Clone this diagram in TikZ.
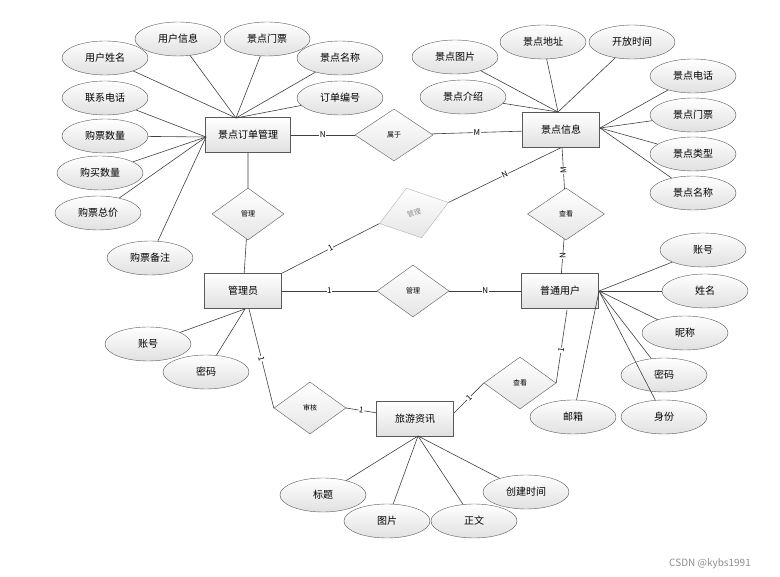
\documentclass[tikz,border=0pt]{standalone}
\usepackage{fontspec}
\setmainfont{Noto Sans CJK SC}
\usetikzlibrary{shapes.geometric}

\begin{document}
\begin{tikzpicture}[x=1pt, y=-1pt,
  entity/.style={draw=black!65, top color=white, bottom color=black!12, minimum width=77pt, minimum height=35pt, inner sep=1pt, font=\fontsize{10}{12}\selectfont},
  attr/.style={ellipse, draw=black!65, top color=white, bottom color=black!12, minimum width=86pt, minimum height=34pt, inner sep=0pt, font=\fontsize{10}{12}\selectfont},
  rel/.style={diamond, draw=black!65, top color=white, bottom color=black!10, minimum width=72pt, minimum height=52pt, inner sep=0pt, font=\fontsize{7}{8}\selectfont},
  link/.style={draw=black!75, line width=0.6pt},
  card/.style={fill=white, inner sep=0.5pt, font=\fontsize{8}{9}\selectfont}]
  \useasboundingbox (0,0) rectangle (780,577);
  % entities
  \node[entity, minimum width=85pt] (order) at (248,135) {景点订单管理};
  \node[entity] (spot) at (561,130) {景点信息};
  \node[entity] (admin) at (243,291) {管理员};
  \node[entity] (user) at (560,291) {普通用户};
  \node[entity] (news) at (415,419) {旅游资讯};
  % relationships
  \node[rel, minimum width=78pt] (belong) at (394,135) {属于};
  \node[rel] (manageA) at (248,214) {管理};
  \node[rel, draw=black!30, text=black!45, rotate=17] (manageB) at (414,213) {管理};
  \node[rel, minimum width=77pt] (viewA) at (566,214) {查看};
  \node[rel] (manageC) at (413,291) {管理};
  \node[rel] (audit) at (310,408) {审核};
  \node[rel] (viewB) at (520,383) {查看};
  % points where attribute lines meet the entities
  \coordinate (orderTop) at (236,118);
  \coordinate (orderLeft) at (206,137);
  \coordinate (spotTop) at (558,112);
  \coordinate (spotRight) at (600,128);
  \coordinate (adminLow) at (245,309);
  \coordinate (userRight) at (599,291);
  \coordinate (newsLow) at (418,436);
  % attributes of the order entity
  \foreach \n/\x/\y/\t/\c in {oa/105/58/用户姓名/orderTop, ob/178/39/用户信息/orderTop,
      oc/267/39/景点门票/orderTop, od/340/58/景点名称/orderTop, oe/340/98/订单编号/orderTop,
      of/105/98/联系电话/orderLeft, og/105/136/购票数量/orderLeft, oh/100/173/购买数量/orderLeft,
      oi/98/213/购票总价/orderLeft, oj/150/258/购票备注/orderLeft}
  {
    \node[attr] (\n) at (\x,\y) {\t};
    \draw[link] (\n) -- (\c);
  }
  % attributes of the scenic spot entity
  \foreach \n/\x/\y/\t/\c in {sa/455/57/景点图片/spotTop, sb/543/42/景点地址/spotTop,
      sc/632/42/开放时间/spotTop, sd/463/97/景点介绍/spotTop, se/693/76/景点电话/spotRight,
      sf/693/115/景点门票/spotRight, sg/693/154/景点类型/spotRight, sh/693/193/景点名称/spotRight}
  {
    \node[attr] (\n) at (\x,\y) {\t};
    \draw[link] (\n) -- (\c);
  }
  % attributes of admin, user and news
  \foreach \n/\x/\y/\t/\c in {aa/148/344/账号/adminLow, ab/206/372/密码/adminLow,
      ua/703/250/账号/userRight, ub/705/291/姓名/userRight, uc/685/333/昵称/userRight,
      ud/664/375/密码/userRight, ue/664/417/身份/userRight, uf/573/417/邮箱/userRight,
      na/323/495/标题/newsLow, nb/387/521/图片/newsLow, nc/474/521/正文/newsLow,
      nd/526/492/创建时间/newsLow}
  {
    \node[attr] (\n) at (\x,\y) {\t};
    \draw[link] (\n) -- (\c);
  }
  % relationship lines with cardinalities
  \draw[link] (order) -- node[card] {N} (belong);
  \draw[link] (belong) -- node[card] {M} (spot);
  \draw[link] (order) -- (manageA) -- (admin);
  \draw[link] (admin.north east) -- node[card, sloped] {1} (manageB.west);
  \draw[link] (manageB.east) -- node[card, sloped] {N} (spot.south);
  \draw[link] (spot) -- node[card, rotate=90, pos=0.55] {M} (viewA);
  \draw[link] (viewA) -- node[card, rotate=90] {N} (user);
  \draw[link] (admin) -- node[card] {1} (manageC);
  \draw[link] (manageC) -- node[card] {N} (user);
  \coordinate (adminAudit) at (249,309);
  \coordinate (userView) at (567,310);
  \coordinate (newsView) at (454,413);
  \draw[link] (adminAudit) -- node[card, sloped] {1} (audit.west);
  \draw[link] (audit.east) -- node[card, sloped] {1} (news);
  \draw[link] (userView) -- node[card, sloped, pos=0.55] {1} (viewB.east);
  \draw[link] (viewB.west) -- node[card, sloped] {1} (newsView);
  % watermark
  \node[text=black!45, font=\fontsize{10}{11}\selectfont] (mark) at (710,564) {CSDN @kybs1991};
\end{tikzpicture}
\end{document}
